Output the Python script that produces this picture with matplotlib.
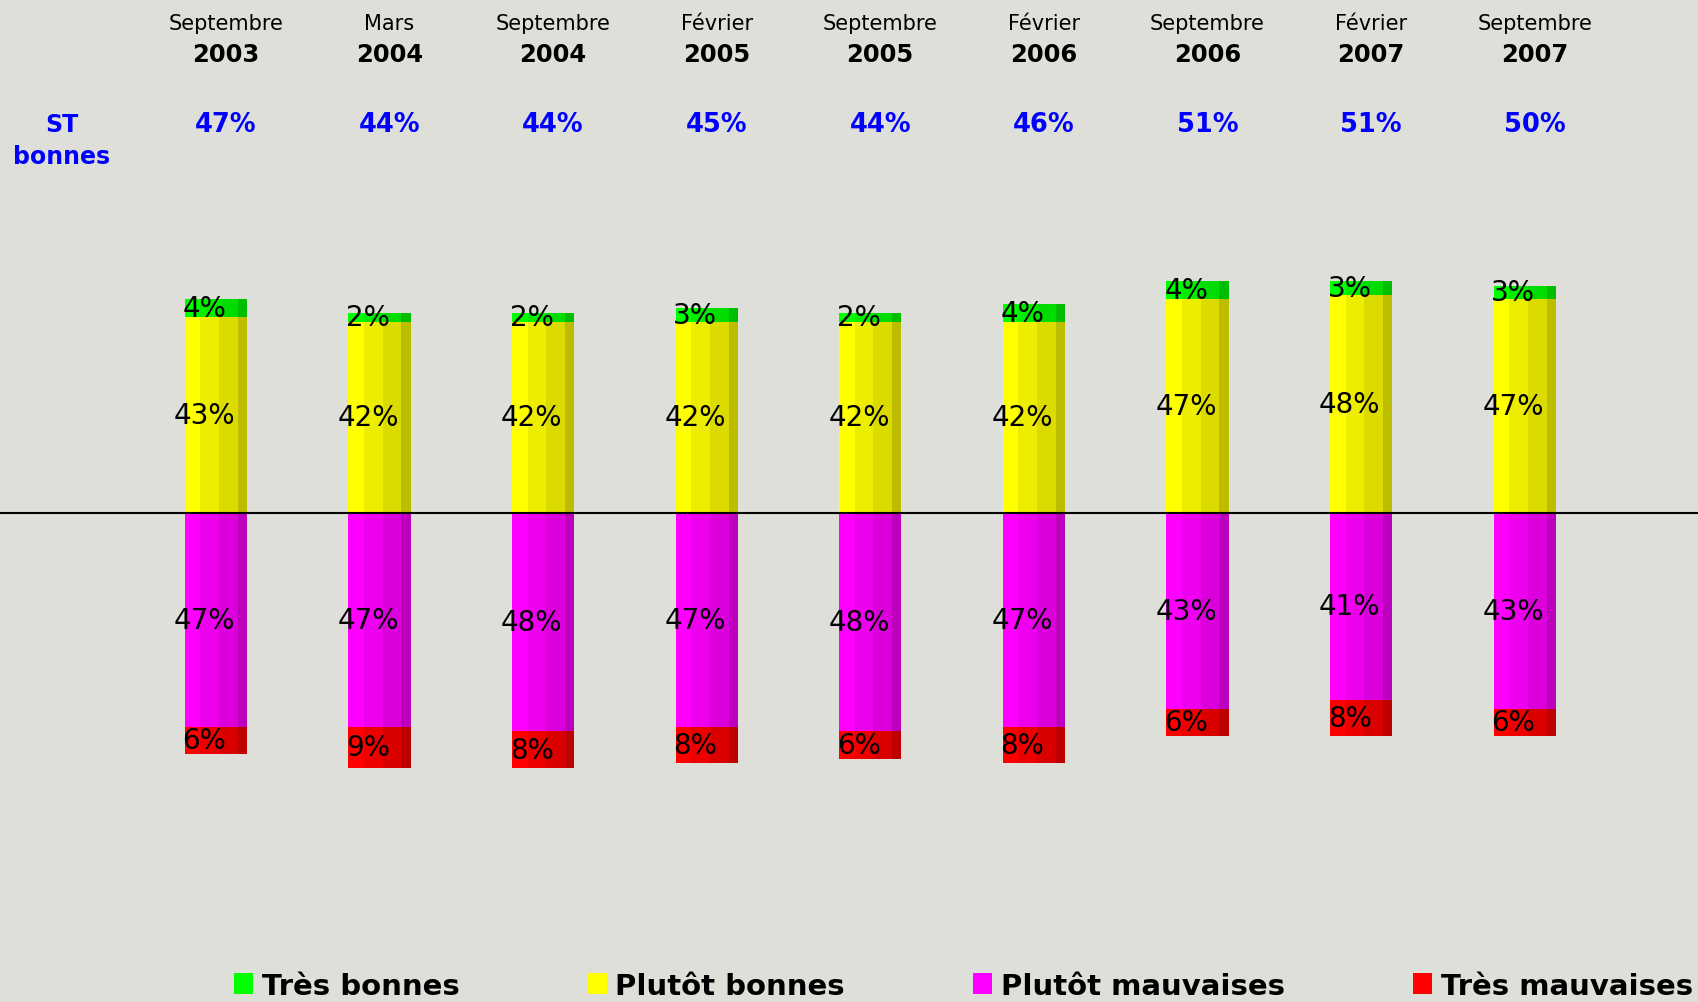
import numpy as np
import matplotlib
matplotlib.use("Agg")
import matplotlib.pyplot as plt
from matplotlib.patches import Patch
from matplotlib.colors import to_rgb
from matplotlib.transforms import blended_transform_factory

months = ["Septembre", "Mars", "Septembre", "Février", "Septembre",
          "Février", "Septembre", "Février", "Septembre"]
years = ["2003", "2004", "2004", "2005", "2005", "2006", "2006", "2007", "2007"]
st_bonnes = [47, 44, 44, 45, 44, 46, 51, 51, 50]

tres_bonnes = [4, 2, 2, 3, 2, 4, 4, 3, 3]
plutot_bonnes = [43, 42, 42, 42, 42, 42, 47, 48, 47]
plutot_mauvaises = [47, 47, 48, 47, 48, 47, 43, 41, 43]
tres_mauvaises = [6, 9, 8, 8, 6, 8, 6, 8, 6]

series_names = ["Très bonnes", "Plutôt bonnes", "Plutôt mauvaises", "Très mauvaises"]
colors = ["#00ff00", "#ffff00", "#ff00ff", "#ff0000"]
bg = "#dfdfd9"

fig = plt.figure(figsize=(16.99, 10.03), dpi=100)
fig.patch.set_facecolor(bg)
ax = fig.add_axes([0, 0, 1, 1])
ax.set_facecolor(bg)
ax.axis("off")

x = np.arange(len(years))
width = 0.38

# fake cylinder shading: vertical strips, brighter on the left
strip_frac = [0.25, 0.3, 0.3, 0.15]
strip_fact = [1.0, 0.93, 0.86, 0.74]


def shaded_bar(bottom, height, color):
    base = np.array(to_rgb(color))
    left = x - width / 2
    for frac, fact in zip(strip_frac, strip_fact):
        w = width * frac
        ax.bar(left, height, width=w, bottom=bottom, align="edge",
               color=tuple(base * fact), linewidth=0)
        left = left + w


tb = np.array(tres_bonnes)
pb = np.array(plutot_bonnes)
pm = np.array(plutot_mauvaises)
tm = np.array(tres_mauvaises)

shaded_bar(0, pb, colors[1])
shaded_bar(pb, tb, colors[0])
shaded_bar(0, -pm, colors[2])
shaded_bar(-pm, -tm, colors[3])

ax.axhline(0, color="black", lw=1.5, zorder=5)

lab_kw = dict(ha="center", va="center", fontsize=20, color="black", zorder=6)
for i in range(len(x)):
    xl = x[i] - 0.07
    ax.text(xl, pb[i] / 2, f"{pb[i]}%", **lab_kw)
    ax.text(xl, pb[i] + tb[i] / 2, f"{tb[i]}%", **lab_kw)
    ax.text(xl, -pm[i] / 2, f"{pm[i]}%", **lab_kw)
    ax.text(xl, -pm[i] - tm[i] / 2, f"{tm[i]}%", **lab_kw)

ax.set_xlim(-1.32, 9.065)
ax.set_ylim(-107.5, 113)

# header rows
tr = blended_transform_factory(ax.transData, fig.transFigure)
for i in range(len(x)):
    xt = x[i] + 0.06
    ax.text(xt, 0.976, months[i], transform=tr, ha="center", va="center",
            fontsize=15)
    ax.text(xt, 0.945, years[i], transform=tr, ha="center", va="center",
            fontsize=17.5, fontweight="bold")
    ax.text(xt, 0.875, f"{st_bonnes[i]}%", transform=tr, ha="center",
            va="center", fontsize=18.5, fontweight="bold", color="#0000ff")

fig.text(62 / 1699, 0.875, "ST", ha="center", va="center", fontsize=17,
         fontweight="bold", color="#0000ff")
fig.text(62 / 1699, 0.843, "bonnes", ha="center", va="center", fontsize=17,
         fontweight="bold", color="#0000ff")

handles = [Patch(facecolor=c, edgecolor="none") for c in colors]
leg = fig.legend(handles, series_names, loc="center left",
                 bbox_to_anchor=(0.1377, 0.016), ncol=4, frameon=False,
                 handlelength=0.65, handleheight=0.75, handletextpad=0.3,
                 columnspacing=4.4, borderpad=0, borderaxespad=0,
                 prop={"size": 21, "weight": "bold"})

fig.savefig("out.png", dpi=100, facecolor=bg)
